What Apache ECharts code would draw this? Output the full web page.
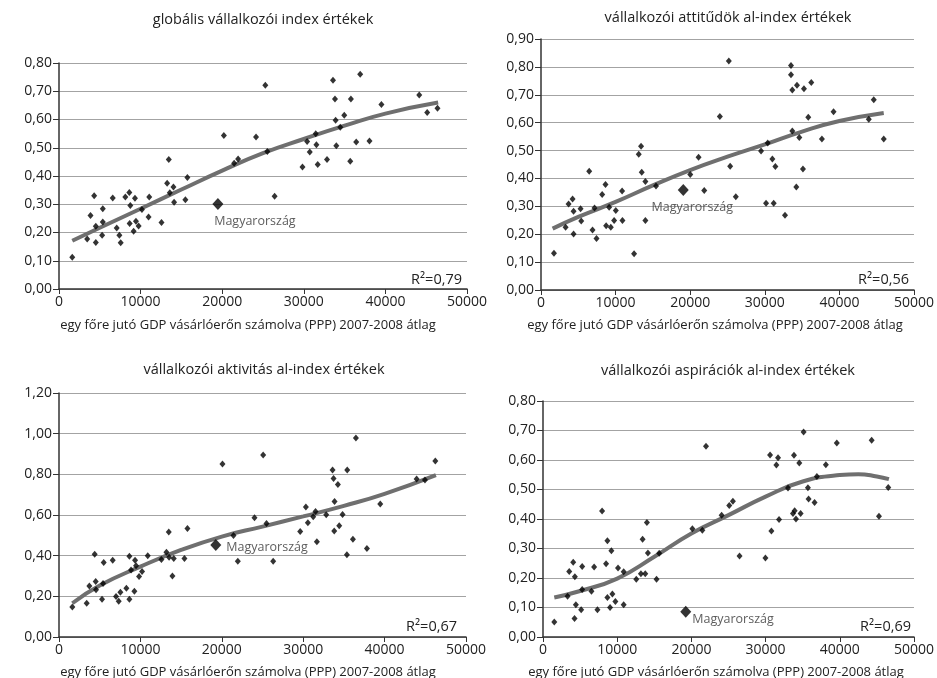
<!DOCTYPE html>
<html><head><meta charset="utf-8">
<script src="https://cdn.jsdelivr.net/npm/echarts@6/dist/echarts.min.js"></script>
<style>html,body{margin:0;background:#fff}#c{width:937px;height:678px}</style>
</head><body><div id="c"></div>
<script>
// ---------- data ----------
const titles = ['globális vállalkozói index értékek','vállalkozói attitűdök al-index értékek','vállalkozói aktivitás al-index értékek','vállalkozói aspirációk al-index értékek'];
const xAxisName = 'egy főre jutó GDP vásárlóerőn számolva (PPP) 2007-2008 átlag';
const r2Labels = ['R²=0,79','R²=0,56','R²=0,67','R²=0,69'];
const huName = 'Magyarország';

// panel 1: globális index
const gdp1 = [1626,3455,3862,4309,4512,4512,5366,5366,5285,6585,7073,7398,7561,8130,8618,8740,8659,9146,9309,9431,9756,10163,10976,11057,12561,13252,13455,13577,14024,14106,15488,15732,20203,21463,21951,24146,25285,25528,26423,29837,30407,30732,31463,31545,31707,32846,33577,33821,33902,33984,34472,34959,35691,35772,36423,36911,38049,39512,44146,45122,46382];
const val1 = [0.112,0.177,0.260,0.330,0.222,0.165,0.284,0.237,0.190,0.322,0.216,0.190,0.164,0.326,0.342,0.296,0.232,0.204,0.321,0.240,0.223,0.281,0.255,0.326,0.235,0.374,0.458,0.341,0.361,0.307,0.316,0.395,0.543,0.445,0.460,0.538,0.721,0.487,0.328,0.432,0.522,0.485,0.550,0.511,0.441,0.458,0.739,0.673,0.597,0.507,0.573,0.615,0.452,0.673,0.520,0.760,0.524,0.653,0.687,0.625,0.640];
const hu1 = [19472, 0.301];
const trendX1 = [1626,5000,10000,15000,20000,25000,30000,35000,40000,46463];
const trendY1 = [0.171,0.217,0.284,0.352,0.419,0.481,0.531,0.578,0.621,0.660];

// panel 2: attitűdök
const gdp2 = [1738,3298,3699,4234,4367,4367,5303,5392,6462,6907,7175,7442,8200,8645,8734,9135,9358,9804,10027,10918,10873,12478,13102,13414,13503,13993,13993,15419,20009,21123,21881,23975,25178,25357,26114,29501,30169,30392,31016,31194,31417,32709,33512,33512,33690,33690,34314,34225,34626,35116,35250,35829,36230,37656,39216,43940,44608,45945];
const val2 = [0.132,0.225,0.308,0.326,0.282,0.201,0.291,0.247,0.426,0.215,0.294,0.185,0.342,0.378,0.230,0.297,0.225,0.249,0.285,0.249,0.355,0.130,0.487,0.515,0.422,0.249,0.389,0.373,0.414,0.476,0.357,0.622,0.821,0.444,0.334,0.498,0.311,0.527,0.470,0.311,0.443,0.268,0.805,0.772,0.717,0.570,0.734,0.369,0.547,0.434,0.722,0.619,0.744,0.541,0.639,0.612,0.682,0.541];
const hu2 = [19073, 0.359];
const trendX2 = [1560,5000,10000,15000,20000,25000,30000,35000,40000,45945];
const trendY2 = [0.220,0.262,0.316,0.375,0.430,0.478,0.522,0.568,0.606,0.635];

// panel 3: aktivitás
const gdp3 = [1639,3402,3730,4385,4508,4549,5287,5410,5492,6598,7008,7336,7541,8279,8648,8648,8852,9262,9344,9467,9836,10205,10902,12582,13197,13484,13525,13934,14098,15410,15779,20082,21434,21967,24016,25082,25492,26311,29631,30328,30574,31230,31516,31680,32828,33607,33730,34262,33852,33811,34426,34836,35410,35369,36107,36475,37828,39467,43934,44959,46230];
const val3 = [0.148,0.166,0.251,0.407,0.273,0.232,0.186,0.263,0.366,0.378,0.199,0.176,0.220,0.240,0.186,0.397,0.330,0.225,0.378,0.351,0.297,0.322,0.399,0.381,0.417,0.517,0.392,0.300,0.386,0.386,0.534,0.851,0.499,0.373,0.586,0.895,0.558,0.373,0.519,0.639,0.562,0.591,0.617,0.468,0.601,0.821,0.780,0.750,0.667,0.521,0.547,0.603,0.821,0.404,0.481,0.979,0.435,0.654,0.777,0.772,0.865];
const hu3 = [19262, 0.452];
const trendX3 = [1639,5000,10000,15000,20000,25000,30000,35000,40000,46303];
const trendY3 = [0.166,0.253,0.346,0.428,0.494,0.543,0.593,0.645,0.704,0.796];

// panel 4: aspirációk
const gdp4 = [1521,3311,3535,4072,4295,4430,4251,5145,5280,5280,6532,6890,7338,7964,8501,8680,8680,9217,9351,9038,9754,10112,10872,10872,12573,13199,13781,13423,14004,14139,15302,15660,20134,21477,21969,24072,25101,25593,26488,29978,30604,30783,31454,31678,31812,33020,33691,33826,33915,34094,34541,34720,35123,35705,35794,36600,36913,38121,39597,44295,45280,46532];
const val4 = [0.051,0.138,0.222,0.253,0.204,0.109,0.063,0.092,0.239,0.161,0.155,0.237,0.092,0.427,0.248,0.326,0.134,0.292,0.146,0.100,0.120,0.234,0.221,0.109,0.196,0.214,0.214,0.331,0.388,0.285,0.196,0.284,0.367,0.362,0.647,0.413,0.446,0.460,0.275,0.268,0.617,0.359,0.583,0.608,0.398,0.505,0.419,0.616,0.428,0.400,0.590,0.419,0.695,0.506,0.468,0.456,0.544,0.584,0.658,0.667,0.409,0.507];
const hu4 = [19239, 0.086];
const trendX4 = [1521,5000,10000,15000,20000,25000,30000,35000,40000,42500,45000,46622];
const trendY4 = [0.134,0.156,0.198,0.272,0.351,0.413,0.476,0.527,0.549,0.552,0.544,0.535];

const yMax = [0.8, 0.9, 1.2, 0.8];
const yStep = [0.1, 0.1, 0.2, 0.1];

// ---------- layout / style ----------
const FONT = '"Open Sans", sans-serif';
const grids = [
  {left:59, top:63, width:408, height:226},
  {left:541, top:39, width:374, height:251},
  {left:59, top:393, width:407, height:244},
  {left:543, top:401, width:373, height:236}
];
const titlePos = [[263,20],[728,18],[264,370],[728,371]];
const namePos = [[248,325],[715,325],[248,672],[716,672]];
const r2Pos = [[462,280],[909,280],[457,627],[911,627]];
const huLabel = [
  {position:'bottom', offset:[37,0]},
  {position:'bottom', offset:[9,0]},
  {position:'right', offset:[0,2]},
  {position:'right', offset:[-4,8]}
];

const gdps = [gdp1,gdp2,gdp3,gdp4];
const vals = [val1,val2,val3,val4];
const hus = [hu1,hu2,hu3,hu4];
const tX = [trendX1,trendX2,trendX3,trendX4];
const tY = [trendY1,trendY2,trendY3,trendY4];

const xAxes = [], yAxes = [], series = [], graphic = [];
for (let i = 0; i < 4; i++) {
  xAxes.push({
    gridIndex:i, type:'value', min:0, max:50000, interval:10000,
    axisLine:{show:true, onZero:false, lineStyle:{color:'#333', width:1.5}},
    axisTick:{show:true, length:5, lineStyle:{color:'#333'}},
    axisLabel:{color:'#222', fontSize:14, margin:6, fontFamily:FONT, formatter:v => String(v)},
    splitLine:{show:false}
  });
  yAxes.push({
    gridIndex:i, type:'value', min:0, max:yMax[i], interval:yStep[i],
    axisLine:{show:true, lineStyle:{color:'#333', width:1.5}},
    axisTick:{show:true, length:6, lineStyle:{color:'#333'}},
    axisLabel:{color:'#222', fontSize:14, margin:7, fontFamily:FONT,
      formatter:v => v.toFixed(2).replace('.', ',')},
    splitLine:{show:true, lineStyle:{color:'#a3a3a3', width:1}}
  });
  series.push({
    type:'line', xAxisIndex:i, yAxisIndex:i, smooth:true, symbol:'none',
    lineStyle:{color:'#6f6f6f', width:4}, z:2,
    data: tX[i].map((x,k) => [x, tY[i][k]])
  });
  series.push({
    type:'scatter', xAxisIndex:i, yAxisIndex:i, symbol:'diamond', symbolSize:[6,7],
    itemStyle:{color:'#000'}, z:3,
    data: gdps[i].map((x,k) => [x, vals[i][k]])
  });
  series.push({
    type:'scatter', xAxisIndex:i, yAxisIndex:i, symbol:'diamond', symbolSize:[11,12],
    itemStyle:{color:'#000'}, z:4,
    label:Object.assign({show:true, formatter:huName, color:'#333', fontSize:12.5, fontFamily:FONT, distance:5}, huLabel[i]),
    data:[hus[i]]
  });
  graphic.push({type:'text', x:titlePos[i][0], y:titlePos[i][1],
    style:{text:titles[i], fill:'#222', font:'14.5px ' + FONT, textAlign:'center', textVerticalAlign:'middle'}});
  graphic.push({type:'text', x:namePos[i][0], y:namePos[i][1],
    style:{text:xAxisName, fill:'#222', font:'13px ' + FONT, textAlign:'center', textVerticalAlign:'middle'}});
  graphic.push({type:'text', x:r2Pos[i][0], y:r2Pos[i][1],
    style:{text:r2Labels[i], fill:'#222', font:'14.5px ' + FONT, textAlign:'right', textVerticalAlign:'middle'}});
}

const chart = echarts.init(document.getElementById('c'), null, {renderer:'canvas'});
chart.setOption({
  animation:false,
  backgroundColor:'#fff',
  grid: grids,
  xAxis: xAxes,
  yAxis: yAxes,
  series: series,
  graphic: graphic
});
</script></body></html>
